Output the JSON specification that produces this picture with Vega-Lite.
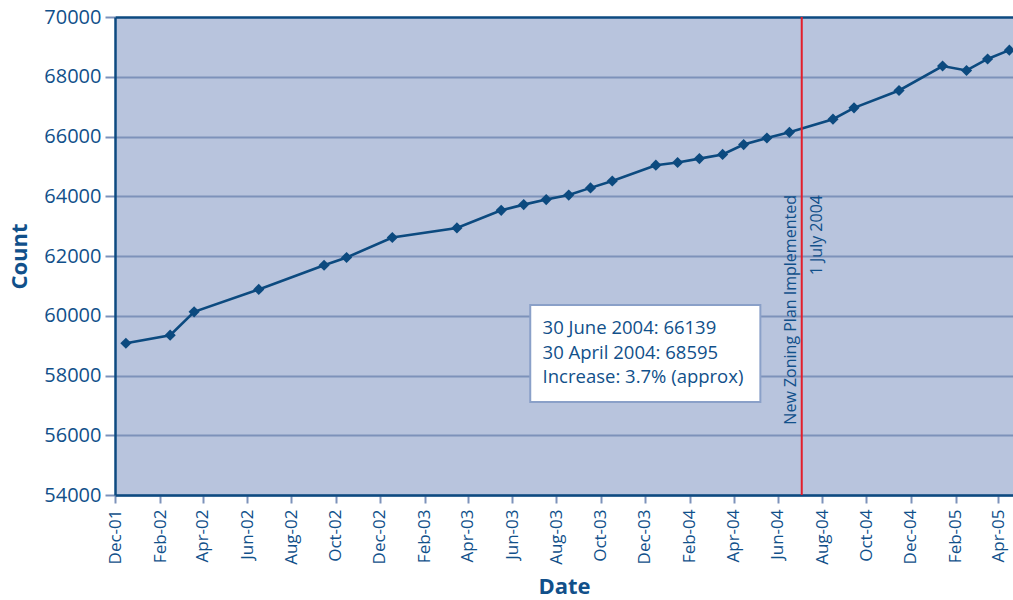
{
  "$schema": "https://vega.github.io/schema/vega-lite/v6.json",
  "width": 898,
  "height": 478,
  "autosize": {"type": "none"},
  "padding": {"left": 115, "top": 17, "right": 0, "bottom": 105},
  "background": "white",
  "config": {
    "font": "Open Sans",
    "view": {"fill": "#b8c4dd", "stroke": null}
  },
  "datasets": {
    "counts": [
      {"date": "2001-12-16", "count": 59080},
      {"date": "2002-02-15", "count": 59350},
      {"date": "2002-03-20", "count": 60130},
      {"date": "2002-06-17", "count": 60880},
      {"date": "2002-09-15", "count": 61690},
      {"date": "2002-10-16", "count": 61950},
      {"date": "2002-12-18", "count": 62620},
      {"date": "2003-03-17", "count": 62940},
      {"date": "2003-05-17", "count": 63530},
      {"date": "2003-06-17", "count": 63720},
      {"date": "2003-07-18", "count": 63890},
      {"date": "2003-08-18", "count": 64040},
      {"date": "2003-09-17", "count": 64280},
      {"date": "2003-10-17", "count": 64510},
      {"date": "2003-12-16", "count": 65040},
      {"date": "2004-01-15", "count": 65130},
      {"date": "2004-02-14", "count": 65260},
      {"date": "2004-03-17", "count": 65400},
      {"date": "2004-04-15", "count": 65730},
      {"date": "2004-05-17", "count": 65950},
      {"date": "2004-06-17", "count": 66139},
      {"date": "2004-08-16", "count": 66580},
      {"date": "2004-09-14", "count": 66960},
      {"date": "2004-11-15", "count": 67540},
      {"date": "2005-01-14", "count": 68360},
      {"date": "2005-02-16", "count": 68210},
      {"date": "2005-03-17", "count": 68595},
      {"date": "2005-04-16", "count": 68890}
    ],
    "event": [
      {"date": "2004-07-04", "count": 64040, "label1": "New Zoning Plan Implemented", "label2": "1 July 2004"}
    ],
    "note": [
      {"start": "2003-06-26", "end": "2004-05-08", "top": 60356, "bottom": 57111}
    ],
    "noteText": [
      {"date": "2003-07-13", "count": 59586, "text": "30 June 2004: 66139"},
      {"date": "2003-07-13", "count": 58766, "text": "30 April 2004: 68595"},
      {"date": "2003-07-13", "count": 57947, "text": "Increase: 3.7% (approx)"}
    ]
  },
  "layer": [
    {
      "data": {"name": "counts"},
      "mark": {
        "type": "line",
        "color": "#0c4a7f",
        "strokeWidth": 2.6,
        "point": {"shape": "diamond", "size": 125, "filled": true, "color": "#0c4a7f", "opacity": 1}
      },
      "encoding": {
        "x": {
          "field": "date",
          "type": "temporal",
          "scale": {
            "type": "utc",
            "domain": [
              {"year": 2001, "month": 12, "date": 1, "utc": true},
              {"year": 2005, "month": 4, "date": 21, "utc": true}
            ]
          },
          "axis": {
            "title": "Date",
            "values": [
              {"year": 2001, "month": 12, "date": 1, "utc": true},
              {"year": 2002, "month": 2, "date": 1, "utc": true},
              {"year": 2002, "month": 4, "date": 1, "utc": true},
              {"year": 2002, "month": 6, "date": 1, "utc": true},
              {"year": 2002, "month": 8, "date": 1, "utc": true},
              {"year": 2002, "month": 10, "date": 1, "utc": true},
              {"year": 2002, "month": 12, "date": 1, "utc": true},
              {"year": 2003, "month": 2, "date": 1, "utc": true},
              {"year": 2003, "month": 4, "date": 1, "utc": true},
              {"year": 2003, "month": 6, "date": 1, "utc": true},
              {"year": 2003, "month": 8, "date": 1, "utc": true},
              {"year": 2003, "month": 10, "date": 1, "utc": true},
              {"year": 2003, "month": 12, "date": 1, "utc": true},
              {"year": 2004, "month": 2, "date": 1, "utc": true},
              {"year": 2004, "month": 4, "date": 1, "utc": true},
              {"year": 2004, "month": 6, "date": 1, "utc": true},
              {"year": 2004, "month": 8, "date": 1, "utc": true},
              {"year": 2004, "month": 10, "date": 1, "utc": true},
              {"year": 2004, "month": 12, "date": 1, "utc": true},
              {"year": 2005, "month": 2, "date": 1, "utc": true},
              {"year": 2005, "month": 4, "date": 1, "utc": true}
            ],
            "labelExpr": "utcFormat(datum.value, '%b-%y')",
            "labelAngle": -90,
            "labelAlign": "right",
            "labelBaseline": "middle",
            "labelFontSize": 17,
            "labelColor": "#11508a",
            "labelPadding": 6,
            "labelOverlap": false,
            "labelFlush": false,
            "tickColor": "#7d92ba",
            "tickSize": 8,
            "tickWidth": 2,
            "domainColor": "#0d4a80",
            "domainWidth": 2.5,
            "grid": false,
            "titleFontSize": 22,
            "titleFontWeight": "bold",
            "titleColor": "#11508a",
            "titlePadding": 12
          }
        },
        "y": {
          "field": "count",
          "type": "quantitative",
          "scale": {"domain": [54000, 70000], "nice": false, "zero": false},
          "axis": {
            "title": "Count",
            "values": [54000, 56000, 58000, 60000, 62000, 64000, 66000, 68000, 70000],
            "format": "d",
            "labelFontSize": 20,
            "labelColor": "#11508a",
            "labelPadding": 4,
            "tickColor": "#7d92ba",
            "tickSize": 10,
            "tickWidth": 2,
            "domainColor": "#0d4a80",
            "domainWidth": 2.5,
            "grid": true,
            "gridColor": {"condition": {"test": "datum.value === 70000", "value": "#0d4a80"}, "value": "#7d92ba"},
            "gridWidth": {"condition": {"test": "datum.value === 70000", "value": 2.5}, "value": 2},
            "titleFontSize": 22,
            "titleFontWeight": "bold",
            "titleColor": "#11508a",
            "titlePadding": 12
          }
        }
      }
    },
    {
      "data": {"name": "event"},
      "mark": {"type": "rule", "color": "#e31e2a", "strokeWidth": 2},
      "encoding": {
        "x": {"field": "date", "type": "temporal"}
      }
    },
    {
      "data": {"name": "event"},
      "mark": {"type": "text", "angle": 270, "align": "right", "baseline": "alphabetic", "dy": -6, "fontSize": 16, "color": "#11508a"},
      "encoding": {
        "x": {"field": "date", "type": "temporal"},
        "y": {"field": "count", "type": "quantitative"},
        "text": {"field": "label1"}
      }
    },
    {
      "data": {"name": "event"},
      "mark": {"type": "text", "angle": 270, "align": "right", "baseline": "alphabetic", "dy": 20, "fontSize": 16, "color": "#11508a"},
      "encoding": {
        "x": {"field": "date", "type": "temporal"},
        "y": {"field": "count", "type": "quantitative"},
        "text": {"field": "label2"}
      }
    },
    {
      "data": {"name": "note"},
      "mark": {"type": "rect", "fill": "white", "stroke": "#8aa0c8", "strokeWidth": 2},
      "encoding": {
        "x": {"field": "start", "type": "temporal"},
        "x2": {"field": "end"},
        "y": {"field": "top", "type": "quantitative"},
        "y2": {"field": "bottom"}
      }
    },
    {
      "data": {"name": "noteText"},
      "mark": {"type": "text", "align": "left", "baseline": "middle", "fontSize": 18.5, "color": "#11508a"},
      "encoding": {
        "x": {"field": "date", "type": "temporal"},
        "y": {"field": "count", "type": "quantitative"},
        "text": {"field": "text"}
      }
    }
  ]
}
